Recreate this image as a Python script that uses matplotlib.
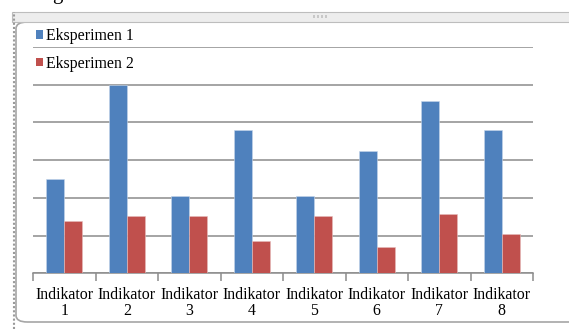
"""
Grouped bar chart of the two experiments for each of the eight indicators,
drawn in the style of an embedded spreadsheet chart.
"""

import matplotlib.pyplot as plt
import numpy as np
from matplotlib.patches import FancyBboxPatch, Rectangle
from matplotlib.lines import Line2D

categories = ['Indikator\n1', 'Indikator\n2', 'Indikator\n3', 'Indikator\n4',
              'Indikator\n5', 'Indikator\n6', 'Indikator\n7', 'Indikator\n8']
eksperimen_1 = [25, 50, 20.6, 38.1, 20.6, 32.4, 45.7, 38.1]
eksperimen_2 = [13.8, 15.3, 15.3, 8.5, 15.3, 6.9, 15.6, 10.4]
series_names = ['Eksperimen 1', 'Eksperimen 2']

plt.rcParams['font.family'] = ['Liberation Serif', 'DejaVu Serif']

W, H = 569, 329
fig = plt.figure(figsize=(W / 100, H / 100), dpi=100)

# Window frame around the chart object
fig.patches.append(FancyBboxPatch((16 / W, 1 - 322 / H), 620 / W, 300 / H,
                                  boxstyle='round,pad=0,rounding_size=0.02',
                                  transform=fig.transFigure, facecolor='white',
                                  edgecolor='#a6a6a6', linewidth=1.2, zorder=-5))
fig.patches.append(Rectangle((12 / W, 1 - 22 / H), 560 / W, 10 / H,
                             transform=fig.transFigure, facecolor='#ededed',
                             edgecolor='#bdbdbd', linewidth=0.8, zorder=-4))
fig.lines.append(Line2D([14 / W, 14 / W], [0, 1 - 12 / H], transform=fig.transFigure,
                        color='#9a9a9a', linewidth=1.5, linestyle=(0, (1, 1)), zorder=-3))
for dx in (-6, -2, 2, 6):
    fig.patches.append(Rectangle(((320 + dx - 1.2) / W, 1 - 18 / H), 2.4 / W, 3 / H,
                                 transform=fig.transFigure, facecolor='#c8c8c8',
                                 edgecolor='none', zorder=-3))
fig.text(52 / W, 1 + 1 / H, 'g', fontsize=15, va='baseline', ha='left', color='black')

# Plot area
ax = fig.add_axes([33 / W, 1 - 273.3 / H, 500 / W, 226.3 / H])
ax.set_facecolor('none')
x = np.arange(len(categories))
w = 0.286
b1 = ax.bar(x - w / 2, eksperimen_1, w, color='#4f81bd', edgecolor='#c6d6ea',
            linewidth=0.4, label=series_names[0], zorder=3)
b2 = ax.bar(x + w / 2, eksperimen_2, w, color='#c0504d', edgecolor='#e6bcbb',
            linewidth=0.4, label=series_names[1], zorder=3)

ax.set_xlim(-0.5, len(categories) - 0.5)
ax.set_ylim(0, 60)
ax.set_yticks(np.arange(0, 61, 10))
ax.yaxis.grid(True, color='#8c8c8c', linewidth=1.1)
ax.set_axisbelow(True)
ax.tick_params(axis='y', left=False, labelleft=False)
for s in ['top', 'right', 'left']:
    ax.spines[s].set_visible(False)
ax.spines['bottom'].set_color('#8c8c8c')
ax.spines['bottom'].set_linewidth(1.1)

ax.set_xticks(x)
ax.set_xticklabels(categories, fontsize=11.4, linespacing=0.95)
ax.set_xticks(np.arange(-0.5, len(categories), 1), minor=True)
ax.tick_params(axis='x', which='major', length=0, pad=10, colors='black')
ax.tick_params(axis='x', which='minor', length=6, width=1.1, color='#8c8c8c',
               direction='out')

leg = ax.legend(handles=[b1, b2], loc='upper left',
                bbox_to_anchor=(36 / W, 1 - 28 / H), bbox_transform=fig.transFigure,
                frameon=False, fontsize=11.4, handlelength=0.45, handleheight=0.45,
                handletextpad=0.2, labelspacing=0.75, borderpad=0, borderaxespad=0)
for h in leg.legend_handles:
    h.set_edgecolor('none')

fig.savefig('out.png', dpi=100)
